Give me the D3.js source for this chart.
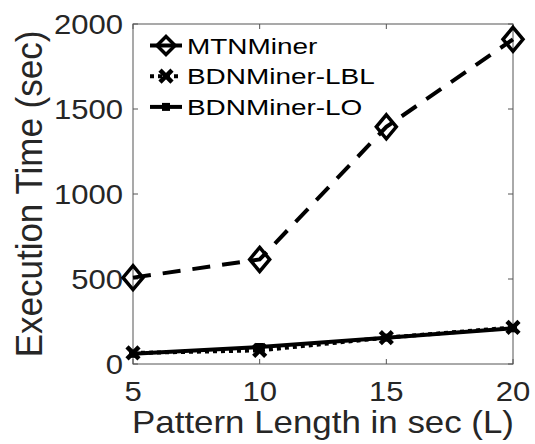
<!DOCTYPE html>
<html>
<head>
<meta charset="utf-8">
<script src="https://cdn.jsdelivr.net/npm/d3@7"></script>
<style>
  body { margin: 0; background: #fff; }
  text { font-family: "Liberation Sans", Arial, sans-serif; fill: #262626; }
</style>
</head>
<body>
<div id="chart"></div>
<script>
var lengths = [5, 10, 15, 20];
var mtnMiner = [508, 615, 1395, 1910];
var bdnLBL = [65, 80, 155, 215];
var bdnLO = [60, 100, 155, 210];
var yTicks = [0, 500, 1000, 1500, 2000];

var width = 535, height = 444;
var margin = {top: 24, right: 22, bottom: 80, left: 133};

var svg = d3.select("#chart").append("svg")
  .attr("width", width)
  .attr("height", height);

var x = d3.scaleLinear().domain([5, 20]).range([margin.left, width - margin.right]);
var y = d3.scaleLinear().domain([0, 2000]).range([height - margin.bottom, margin.top]);

var series = [
  {name: "MTNMiner", values: mtnMiner, dash: "18,12", marker: "diamond"},
  {name: "BDNMiner-LBL", values: bdnLBL, dash: "4,4", marker: "x"},
  {name: "BDNMiner-LO", values: bdnLO, dash: null, marker: "square"}
];

// text that is a bit wider than the font draws it, like the original
function wideText(g, tx, ty, sx, size, anchor, str) {
  return g.append("text")
    .attr("transform", "translate(" + tx + "," + ty + ") scale(" + sx + ",1)")
    .attr("text-anchor", anchor)
    .style("font-size", size + "px")
    .text(str);
}

// axes box
var axisColor = "#555";
svg.append("rect")
  .attr("x", x(5)).attr("y", y(2000))
  .attr("width", x(20) - x(5)).attr("height", y(0) - y(2000))
  .attr("fill", "none").attr("stroke", axisColor).attr("stroke-width", 1);

// ticks inside, both sides
var ax = svg.append("g");
lengths.forEach(function(v) {
  ax.append("line").attr("x1", x(v)).attr("x2", x(v)).attr("y1", y(0)).attr("y2", y(0) - 5).attr("stroke", axisColor);
  ax.append("line").attr("x1", x(v)).attr("x2", x(v)).attr("y1", y(2000)).attr("y2", y(2000) + 5).attr("stroke", axisColor);
  wideText(ax, x(v), y(0) + 37, 1.15, 27, "middle", v);
});
yTicks.forEach(function(v) {
  ax.append("line").attr("x1", x(5)).attr("x2", x(5) + 5).attr("y1", y(v)).attr("y2", y(v)).attr("stroke", axisColor);
  ax.append("line").attr("x1", x(20)).attr("x2", x(20) - 5).attr("y1", y(v)).attr("y2", y(v)).attr("stroke", axisColor);
  wideText(ax, x(5) - 10, y(v) + 10, 1.15, 27, "end", v);
});

wideText(svg, (x(5) + x(20)) / 2, height - 11, 1.09, 32, "middle", "Pattern Length in sec (L)");

svg.append("text")
  .attr("transform", "translate(42," + ((y(0) + y(2000)) / 2) + ") rotate(-90) scale(1,1.08)")
  .attr("text-anchor", "middle").style("font-size", "35px")
  .text("Execution Time (sec)");

function drawMarker(g, type, cx, cy, hw, hh) {
  if (type === "diamond") {
    g.append("path")
      .attr("d", "M" + cx + "," + (cy - hh) + "L" + (cx + hw) + "," + cy + "L" + cx + "," + (cy + hh) + "L" + (cx - hw) + "," + cy + "Z")
      .attr("fill", "none").attr("stroke", "#000").attr("stroke-width", 3.5);
  } else if (type === "x") {
    g.append("path")
      .attr("d", "M" + (cx - 6) + "," + (cy - 6) + "L" + (cx + 6) + "," + (cy + 6) + "M" + (cx + 6) + "," + (cy - 6) + "L" + (cx - 6) + "," + (cy + 6))
      .attr("stroke", "#000").attr("stroke-width", 4.5).attr("fill", "none");
  } else {
    g.append("rect").attr("x", cx - 4).attr("y", cy - 4).attr("width", 8).attr("height", 8).attr("fill", "#000");
  }
}

var line = d3.line()
  .x(function(d, i) { return x(lengths[i]); })
  .y(function(d) { return y(d); });

var plot = svg.append("g");
series.forEach(function(s) {
  plot.append("path")
    .datum(s.values)
    .attr("d", line)
    .attr("fill", "none")
    .attr("stroke", "#000")
    .attr("stroke-width", 4)
    .attr("stroke-dasharray", s.dash);
  s.values.forEach(function(v, i) {
    drawMarker(plot, s.marker, x(lengths[i]), y(v), 10, 12);
  });
});

// legend
var legend = svg.append("g");
series.forEach(function(s, i) {
  var ly = 45.5 + i * 30.7;
  legend.append("line")
    .attr("x1", 150).attr("x2", 182).attr("y1", ly).attr("y2", ly)
    .attr("stroke", "#000").attr("stroke-width", 4)
    .attr("stroke-dasharray", s.marker === "x" ? "4,4" : null);
  drawMarker(legend, s.marker, 166, ly, 9, 9);
  wideText(legend, 187, ly + 8, 1.27, 22, "start", s.name).style("fill", "#000");
});
</script>
</body>
</html>
